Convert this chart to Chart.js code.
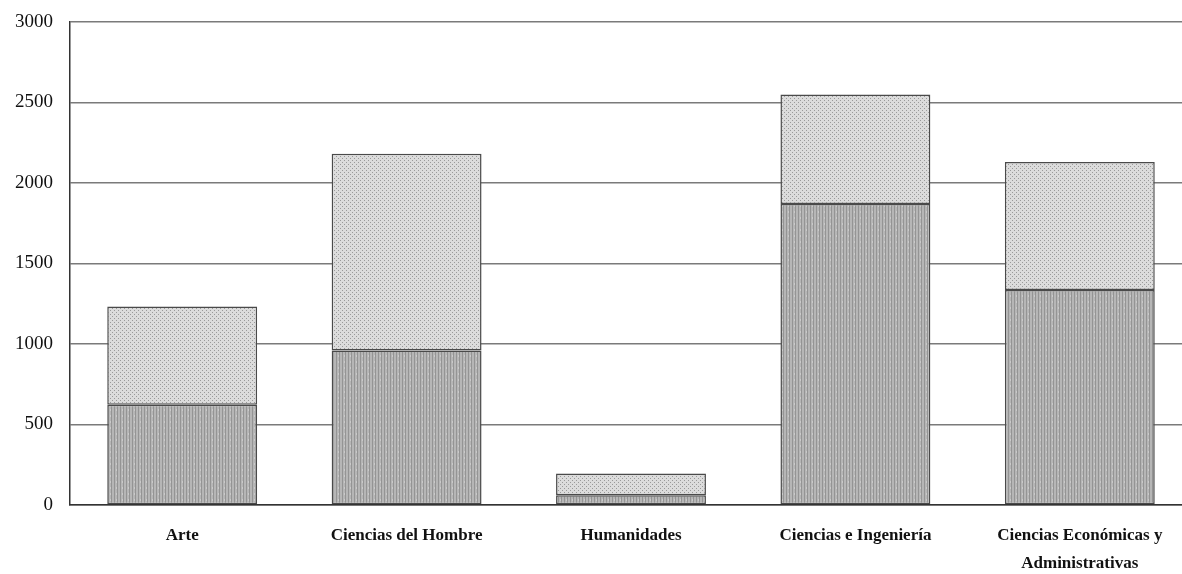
<!DOCTYPE html>
<html>
<head>
<meta charset="utf-8">
<script src="https://cdn.jsdelivr.net/npm/chart.js@4"></script>
<style>
  html, body { margin: 0; padding: 0; background: #fff; overflow: hidden; }
  #wrap { position: absolute; left: 0; top: 0; width: 1194px; height: 574px; }
</style>
</head>
<body>
<div id="wrap"><canvas id="chart"></canvas></div>
<script>
// categorías y valores
const categorias = ['Arte', 'Ciencias del Hombre', 'Humanidades', 'Ciencias e Ingeniería', ['Ciencias Económicas y', 'Administrativas']];
const serieInferior = [623, 960, 60, 1870, 1335];
const serieSuperior = [610, 1222, 135, 680, 795];
const ticksY = [0, 500, 1000, 1500, 2000, 2500, 3000];

// texturas tipo trama de impresión
function tramaVertical() {
  const c = document.createElement('canvas');
  c.width = 6; c.height = 6;
  const g = c.getContext('2d');
  g.fillStyle = '#b6b6b6';
  g.fillRect(0, 0, 6, 6);
  g.fillStyle = '#949494';
  g.fillRect(0, 0, 1, 6);
  g.fillRect(3, 0, 1, 6);
  g.fillStyle = '#cacaca';
  g.fillRect(2, 1, 1, 2);
  return g.createPattern(c, 'repeat');
}
function tramaPuntos() {
  const c = document.createElement('canvas');
  c.width = 4; c.height = 4;
  const g = c.getContext('2d');
  g.fillStyle = '#dcdcdc';
  g.fillRect(0, 0, 4, 4);
  g.fillStyle = '#9a9a9a';
  g.fillRect(0, 0, 1, 1);
  g.fillRect(2, 2, 1, 1);
  return g.createPattern(c, 'repeat');
}

const ctx = document.getElementById('chart').getContext('2d');
new Chart(ctx, {
  type: 'bar',
  data: {
    labels: categorias,
    datasets: [
      {
        label: 'inferior',
        data: serieInferior,
        backgroundColor: tramaVertical(),
        borderColor: '#4a4a4a',
        borderWidth: 1.5,
        borderSkipped: false
      },
      {
        label: 'superior',
        data: serieSuperior,
        backgroundColor: tramaPuntos(),
        borderColor: '#4a4a4a',
        borderWidth: 1.5,
        borderSkipped: false
      }
    ]
  },
  options: {
    responsive: true,
    maintainAspectRatio: false,
    animation: false,
    layout: { padding: { top: 22, right: 2, bottom: 0, left: 0 } },
    datasets: { bar: { barPercentage: 0.668, categoryPercentage: 1 } },
    plugins: {
      legend: { display: false },
      title: { display: false },
      tooltip: { enabled: false }
    },
    scales: {
      x: {
        stacked: true,
        afterFit: axis => { axis.height = 69; },
        grid: { display: false },
        border: { display: true, color: '#333', width: 1.5 },
        ticks: {
          color: '#111',
          padding: 9,
          maxRotation: 0,
          autoSkip: false,
          font: { family: 'Liberation Serif', size: 17, weight: 'bold', lineHeight: 1.65 }
        }
      },
      y: {
        stacked: true,
        min: 0,
        max: 3000,
        afterBuildTicks: axis => { axis.ticks = ticksY.map(v => ({ value: v })); },
        afterFit: axis => { axis.width = 70; axis.paddingTop = 0; axis.paddingBottom = 0; },
        grid: { color: '#7a7a7a', lineWidth: 1.5, drawTicks: false },
        border: { display: true, color: '#333', width: 1.5 },
        ticks: {
          color: '#111',
          padding: 17,
          callback: v => String(v),
          font: { family: 'Liberation Serif', size: 19 }
        }
      }
    }
  }
});
</script>
</body>
</html>
